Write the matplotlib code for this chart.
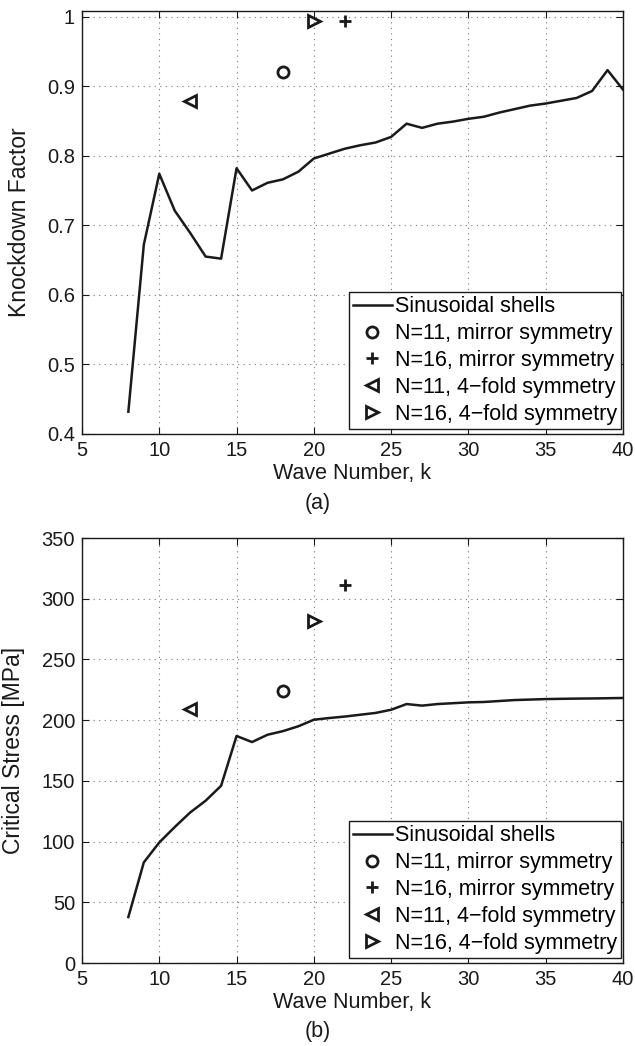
import matplotlib
matplotlib.use('Agg')
import matplotlib.pyplot as plt

plt.rcParams['font.family'] = ['Liberation Sans', 'DejaVu Sans']
plt.rcParams['font.size'] = 14

# wave numbers for the sinusoidal shells
k = list(range(8, 41))

# knockdown factor, sinusoidal shells
kdf = [0.432, 0.672, 0.774, 0.721, 0.689, 0.655, 0.652, 0.782, 0.750, 0.761,
       0.766, 0.777, 0.796, 0.803, 0.810, 0.815, 0.819, 0.827, 0.846, 0.840,
       0.846, 0.849, 0.853, 0.856, 0.862, 0.867, 0.872, 0.875, 0.879, 0.883,
       0.893, 0.923, 0.895]

# critical stress [MPa], sinusoidal shells
stress = [37.9, 82.9, 99.3, 112.0, 124.0, 133.7, 146.0, 187.0, 182.0, 188.0,
          191.0, 195.0, 200.4, 201.8, 203.0, 204.5, 206.0, 208.6, 213.3, 212.0,
          213.3, 214.0, 214.7, 215.0, 215.8, 216.6, 217.0, 217.4, 217.6, 217.8,
          217.9, 218.1, 218.3]

# single designs: (k, knockdown, stress)
mir11_k, mir11_kdf, mir11_s = [18], [0.920], [224]
mir16_k, mir16_kdf, mir16_s = [22], [0.993], [311]
fold11_k, fold11_kdf, fold11_s = [12], [0.879], [209]
fold16_k, fold16_kdf, fold16_s = [20], [0.993], [282]

labels = ['Sinusoidal shells', 'N=11, mirror symmetry', 'N=16, mirror symmetry',
          'N=11, 4\u2212fold symmetry', 'N=16, 4\u2212fold symmetry']


def make_panel(ax, yline, ym11, ym16, yf11, yf16):
    ax.plot(k, yline, color='#1a1a1a', lw=1.8, label=labels[0])
    mk = dict(ls='none', color='#1a1a1a', mfc='none', mew=2, ms=8)
    ax.plot(mir11_k, ym11, marker='o', label=labels[1], **mk)
    ax.plot(mir16_k, ym16, marker='+', label=labels[2], **mk)
    ax.plot(fold11_k, yf11, marker='<', label=labels[3], **mk)
    ax.plot(fold16_k, yf16, marker='>', label=labels[4], **mk)
    ax.grid(True, ls=(0, (1, 4)), color='#777777', lw=0.8)
    ax.tick_params(direction='in', top=True, right=True, labelsize=14.5,
                   length=5, pad=5, colors='#1a1a1a')
    ax.set_xlim(5, 40)
    ax.set_xticks(range(5, 41, 5))
    ax.set_xlabel('Wave Number, k', fontsize=15.5, labelpad=2, color='#1a1a1a')
    for s in ax.spines.values():
        s.set_linewidth(1.0)
        s.set_color('#1a1a1a')
    leg = ax.legend(loc='lower right', bbox_to_anchor=(0.997, 0.012),
                    fancybox=False, edgecolor='#1a1a1a', framealpha=1,
                    fontsize=15.5, borderpad=0.2, labelspacing=0.27,
                    handlelength=1.8, handletextpad=0.15, borderaxespad=0)
    leg.get_frame().set_linewidth(1.0)


fig = plt.figure(figsize=(6.35, 10.46), dpi=100)
ax1 = fig.add_axes([0.1291, 0.5851, 0.852, 0.4044])
ax2 = fig.add_axes([0.1291, 0.0793, 0.852, 0.4063])

make_panel(ax1, kdf, mir11_kdf, mir16_kdf, fold11_kdf, fold16_kdf)
ax1.set_ylim(0.4, 1.008)
ax1.set_yticks([0.4, 0.5, 0.6, 0.7, 0.8, 0.9, 1.0])
ax1.set_yticklabels(['0.4', '0.5', '0.6', '0.7', '0.8', '0.9', '1'])
ax1.set_ylabel('Knockdown Factor', fontsize=16.5, color='#1a1a1a')
ax1.yaxis.set_label_coords(-0.095, 0.5)
fig.text(0.5, 1 - 503 / 1046, '(a)', ha='center', va='center', fontsize=15.5,
         color='#1a1a1a')

make_panel(ax2, stress, mir11_s, mir16_s, fold11_s, fold16_s)
ax2.set_ylim(0, 350)
ax2.set_yticks(range(0, 351, 50))
ax2.set_ylabel('Critical Stress [MPa]', fontsize=16.5, color='#1a1a1a')
ax2.yaxis.set_label_coords(-0.105, 0.5)
fig.text(0.5, 1 - 1031 / 1046, '(b)', ha='center', va='center', fontsize=15.5,
         color='#1a1a1a')

fig.savefig('out.png', dpi=100)
